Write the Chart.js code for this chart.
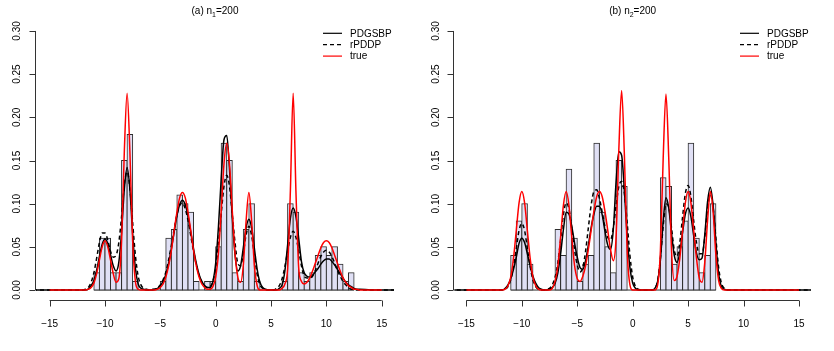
<!DOCTYPE html>
<html>
<head>
<meta charset="utf-8">
<title>Density estimates</title>
<script src="https://cdn.jsdelivr.net/npm/chart.js@4.4.1/dist/chart.umd.min.js"></script>
<style>
  html, body { margin: 0; padding: 0; background: #ffffff; }
  .wrap { display: flex; width: 834px; height: 351px; }
  canvas { display: block; }
</style>
</head>
<body>
<div class="wrap">
  <canvas id="chart-a" width="417" height="351"></canvas>
  <canvas id="chart-b" width="417" height="351"></canvas>
</div>
<script>
// ---- data ----
const seriesNames = ['PDGSBP', 'rPDDP', 'true'];
const panelTitles = [['(a) n', '1', '=200'], ['(b) n', '2', '=200']];

const xTicks = [-15, -10, -5, 0, 5, 10, 15];
const xTickLabels = ['\u221215', '\u221210', '\u22125', '0', '5', '10', '15'];
const yTicks = [0, 0.05, 0.10, 0.15, 0.20, 0.25, 0.30];
const yTickLabels = ['0.00', '0.05', '0.10', '0.15', '0.20', '0.25', '0.30'];

// panel (a): histogram
const binEdgesA = [
  -11, -10.5, -10, -9.5, -9, -8.5, -8, -7.5, -7, -6.5, -6, -5.5,
  -5, -4.5, -4, -3.5, -3, -2.5, -2, -1.5, -1, -0.5, 0, 0.5,
  1, 1.5, 2, 2.5, 3, 3.5, 4, 4.5, 5, 5.5, 6, 6.5,
  7, 7.5, 8, 8.5, 9, 9.5, 10, 10.5, 11, 11.5, 12, 12.5
];
const histA = [
  0.02, 0.06, 0.06, 0.02, 0.02, 0.15, 0.18, 0.01, 0, 0, 0, 0,
  0.01, 0.06, 0.07, 0.11, 0.10, 0.09, 0.01, 0, 0.01, 0.01, 0.05, 0.17,
  0.15, 0.02, 0.01, 0.07, 0.10, 0.01, 0, 0, 0, 0, 0.01, 0.10,
  0.09, 0.02, 0.01, 0.02, 0.04, 0.05, 0.04, 0.05, 0.03, 0.01, 0.02
];

// panel (a): density curves
const curveXA = [
  -16.5, -15, -13.5,
  -12, -11.75, -11.5, -11.25,
  -11, -10.75, -10.5, -10.25,
  -10, -9.75, -9.5, -9.25,
  -9, -8.75, -8.5, -8.25,
  -8, -7.75, -7.5, -7.25,
  -7, -6.75, -6.5, -6.25,
  -6, -5.75, -5.5, -5.25,
  -5, -4.75, -4.5, -4.25,
  -4, -3.75, -3.5, -3.25,
  -3, -2.75, -2.5, -2.25,
  -2, -1.75, -1.5, -1.25,
  -1, -0.75, -0.5, -0.25,
  0, 0.25, 0.5, 0.75,
  1, 1.25, 1.5, 1.75,
  2, 2.25, 2.5, 2.75,
  3, 3.25, 3.5, 3.75,
  4, 4.25, 4.5, 4.75,
  5, 5.25, 5.5, 5.75,
  6, 6.25, 6.5, 6.75,
  7, 7.25, 7.5, 7.75,
  8, 8.25, 8.5, 8.75,
  9, 9.25, 9.5, 9.75,
  10, 10.25, 10.5, 10.75,
  11, 11.25, 11.5, 11.75,
  12, 12.25, 12.5, 12.75,
  13,
  14, 15, 16.5
];
const pdgsbpA = [
  0, 0, 0,
  0.000, 0.000, 0.001, 0.005,
  0.011, 0.023, 0.039, 0.053,
  0.059, 0.054, 0.041, 0.028,
  0.022, 0.032, 0.067, 0.117,
  0.142, 0.117, 0.065, 0.025,
  0.007, 0.002, 0.001, 0.000,
  0.000, 0.000, 0.001, 0.002,
  0.005, 0.010, 0.018, 0.031,
  0.048, 0.067, 0.086, 0.099,
  0.104, 0.099, 0.086, 0.067,
  0.048, 0.031, 0.018, 0.010,
  0.005, 0.003, 0.003, 0.010,
  0.031, 0.073, 0.129, 0.174,
  0.179, 0.140, 0.084, 0.041,
  0.022, 0.028, 0.049, 0.072,
  0.082, 0.072, 0.048, 0.024,
  0.009, 0.003, 0.001, 0.000,
  0.000, 0.000, 0.000, 0.002,
  0.006, 0.022, 0.052, 0.083,
  0.095, 0.085, 0.060, 0.033,
  0.020, 0.016, 0.015, 0.017,
  0.021, 0.025, 0.030, 0.034,
  0.036, 0.036, 0.033, 0.029,
  0.024, 0.019, 0.014, 0.009,
  0.006, 0.004, 0.002, 0.001,
  0.001,
  0, 0, 0
];
const rpddpA = [
  0, 0, 0,
  0.000, 0.001, 0.003, 0.009,
  0.020, 0.037, 0.055, 0.066,
  0.066, 0.058, 0.045, 0.038,
  0.040, 0.055, 0.085, 0.122,
  0.137, 0.118, 0.078, 0.040,
  0.016, 0.006, 0.002, 0.001,
  0.000, 0.001, 0.001, 0.003,
  0.006, 0.012, 0.021, 0.035,
  0.052, 0.070, 0.087, 0.098,
  0.101, 0.094, 0.081, 0.063,
  0.045, 0.029, 0.017, 0.009,
  0.005, 0.003, 0.004, 0.010,
  0.025, 0.053, 0.088, 0.120,
  0.133, 0.120, 0.088, 0.055,
  0.031, 0.028, 0.043, 0.064,
  0.074, 0.063, 0.040, 0.018,
  0.006, 0.002, 0.000, 0.000,
  0.000, 0.000, 0.002, 0.005,
  0.013, 0.027, 0.045, 0.061,
  0.068, 0.061, 0.046, 0.028,
  0.016, 0.014, 0.014, 0.016,
  0.023, 0.031, 0.039, 0.044,
  0.046, 0.044, 0.039, 0.031,
  0.023, 0.016, 0.010, 0.006,
  0.003, 0.001, 0.001, 0.000,
  0.000,
  0, 0, 0
];
const trueA = [
  null, 0, 0,
  0.000, 0.000, 0.001, 0.003,
  0.008, 0.019, 0.035, 0.050,
  0.057, 0.050, 0.035, 0.019,
  0.009, 0.013, 0.057, 0.161,
  0.228, 0.161, 0.057, 0.010,
  0.001, 0.000, 0.000, 0.000,
  0.000, 0.000, 0.000, 0.001,
  0.003, 0.007, 0.015, 0.028,
  0.046, 0.069, 0.090, 0.107,
  0.113, 0.107, 0.090, 0.069,
  0.046, 0.028, 0.015, 0.007,
  0.003, 0.001, 0.001, 0.004,
  0.015, 0.042, 0.092, 0.146,
  0.170, 0.146, 0.092, 0.042,
  0.015, 0.009, 0.029, 0.080,
  0.113, 0.080, 0.028, 0.005,
  0.000, 0.000, 0.000, 0.000,
  0.000, 0.000, 0.000, 0.000,
  0.002, 0.007, 0.025, 0.115,
  0.228, 0.115, 0.026, 0.010,
  0.007, 0.009, 0.014, 0.022,
  0.031, 0.040, 0.049, 0.055,
  0.057, 0.055, 0.049, 0.040,
  0.031, 0.022, 0.014, 0.009,
  0.005, 0.003, 0.001, 0.001,
  0.000,
  0, 0, null
];

// panel (b): histogram
const binEdgesB = [
  -11, -10.5, -10, -9.5, -9, -8.5, -8, -7.5, -7, -6.5, -6, -5.5,
  -5, -4.5, -4, -3.5, -3, -2.5, -2, -1.5, -1, -0.5, 0, 0.5,
  1, 1.5, 2, 2.5, 3, 3.5, 4, 4.5, 5, 5.5, 6, 6.5,
  7, 7.5
];
const histB = [
  0.04, 0.08, 0.10, 0.03, 0, 0, 0, 0, 0.07, 0.04, 0.14, 0.06,
  0.01, 0.03, 0.04, 0.17, 0.09, 0.05, 0.02, 0.15, 0.12, 0, 0, 0,
  0, 0, 0, 0.13, 0.12, 0.03, 0.05, 0.08, 0.17, 0.06, 0.02, 0.04,
  0.10
];

// panel (b): density curves
const curveXB = [
  -16.5, -15, -13.5,
  -12, -11.75, -11.5, -11.25,
  -11, -10.75, -10.5, -10.25,
  -10, -9.75, -9.5, -9.25,
  -9, -8.75, -8.5, -8.25,
  -8, -7.75, -7.5, -7.25,
  -7, -6.75, -6.5, -6.25,
  -6, -5.75, -5.5, -5.25,
  -5, -4.75, -4.5, -4.25,
  -4, -3.75, -3.5, -3.25,
  -3, -2.75, -2.5, -2.25,
  -2, -1.75, -1.5, -1.25,
  -1, -0.75, -0.5, -0.25,
  0, 0.25, 0.5, 0.75,
  1, 1.25, 1.5, 1.75,
  2, 2.25, 2.5, 2.75,
  3, 3.25, 3.5, 3.75,
  4, 4.25, 4.5, 4.75,
  5, 5.25, 5.5, 5.75,
  6, 6.25, 6.5, 6.75,
  7, 7.25, 7.5, 7.75,
  8, 8.25, 8.5, 8.75,
  9,
  11, 13, 15, 16.5
];
const pdgsbpB = [
  0, 0, 0,
  0.000, 0.000, 0.002, 0.006,
  0.013, 0.024, 0.038, 0.054,
  0.060, 0.055, 0.042, 0.028,
  0.016, 0.008, 0.003, 0.001,
  0.000, 0.000, 0.001, 0.003,
  0.008, 0.020, 0.042, 0.070,
  0.090, 0.088, 0.074, 0.055,
  0.038, 0.026, 0.024, 0.034,
  0.052, 0.072, 0.088, 0.097,
  0.097, 0.087, 0.068, 0.052,
  0.047, 0.070, 0.125, 0.160,
  0.156, 0.115, 0.062, 0.026,
  0.008, 0.002, 0.000, 0.000,
  0.000, 0.000, 0.000, 0.000,
  0.002, 0.010, 0.035, 0.080,
  0.107, 0.095, 0.066, 0.040,
  0.032, 0.044, 0.067, 0.088,
  0.095, 0.085, 0.063, 0.043,
  0.035, 0.037, 0.064, 0.102,
  0.119, 0.098, 0.055, 0.019,
  0.004, 0.001, 0.000, 0.000,
  0.000,
  0, 0, 0, 0
];
const rpddpB = [
  0, 0, 0,
  0.000, 0.000, 0.001, 0.004,
  0.012, 0.027, 0.048, 0.069,
  0.077, 0.069, 0.048, 0.027,
  0.012, 0.004, 0.001, 0.000,
  0.000, 0.001, 0.002, 0.006,
  0.015, 0.032, 0.058, 0.087,
  0.101, 0.094, 0.072, 0.047,
  0.029, 0.021, 0.026, 0.045,
  0.072, 0.098, 0.114, 0.116,
  0.106, 0.090, 0.073, 0.061,
  0.058, 0.072, 0.098, 0.120,
  0.126, 0.112, 0.078, 0.040,
  0.015, 0.004, 0.001, 0.000,
  0.000, 0.000, 0.000, 0.000,
  0.002, 0.011, 0.037, 0.074,
  0.100, 0.096, 0.072, 0.046,
  0.039, 0.055, 0.085, 0.112,
  0.121, 0.108, 0.080, 0.055,
  0.042, 0.042, 0.061, 0.094,
  0.110, 0.096, 0.060, 0.026,
  0.008, 0.002, 0.000, 0.000,
  0.000,
  0, 0, 0, 0
];
const trueB = [
  null, 0, 0,
  0.000, 0.000, 0.001, 0.005,
  0.015, 0.037, 0.069, 0.101,
  0.114, 0.101, 0.069, 0.037,
  0.015, 0.005, 0.001, 0.000,
  0.000, 0.000, 0.000, 0.002,
  0.010, 0.028, 0.062, 0.098,
  0.114, 0.098, 0.062, 0.029,
  0.013, 0.010, 0.016, 0.028,
  0.047, 0.069, 0.091, 0.108,
  0.114, 0.108, 0.091, 0.069,
  0.047, 0.034, 0.061, 0.163,
  0.231, 0.156, 0.046, 0.006,
  0.000, 0.000, 0.000, 0.000,
  0.000, 0.000, 0.000, 0.000,
  0.000, 0.006, 0.046, 0.153,
  0.227, 0.153, 0.047, 0.011,
  0.016, 0.037, 0.069, 0.101,
  0.114, 0.101, 0.069, 0.037,
  0.014, 0.009, 0.032, 0.080,
  0.114, 0.091, 0.041, 0.011,
  0.002, 0.000, 0.000, 0.000,
  0.000,
  0, 0, 0, null
];

// ---- drawing ----
const FONT = '"Liberation Sans", Arial, Helvetica, sans-serif';
const BAR_FILL = '#e0e0f5';
const BAR_LINE = '#2e2e2e';
const AXIS_COLOR = '#333333';

function toPoints(xs, ys) {
  return xs.map((x, i) => ({ x: x, y: ys[i] }));
}

function binPoints(edges, dens) {
  return dens.map((d, i) => ({ x: (edges[i] + edges[i + 1]) / 2, y: d }));
}

// R-like axes, title and legend
const rStyle = {
  id: 'rStyle',
  beforeDatasetsDraw(chart, args, opts) {
    // zero-height bins still show as a line along the base
    const { ctx, scales: { x, y } } = chart;
    const e = opts.edges;
    const y0 = y.getPixelForValue(0);
    ctx.save();
    ctx.strokeStyle = BAR_LINE;
    ctx.lineWidth = 1;
    ctx.beginPath();
    ctx.moveTo(x.getPixelForValue(e[0]), y0);
    ctx.lineTo(x.getPixelForValue(e[e.length - 1]), y0);
    ctx.stroke();
    ctx.restore();
  },
  afterDraw(chart, args, opts) {
    const { ctx, chartArea: a, scales: { x, y } } = chart;
    ctx.save();
    ctx.strokeStyle = AXIS_COLOR;
    ctx.fillStyle = '#000';
    ctx.lineWidth = 1;
    ctx.font = '10px ' + FONT;

    // x axis
    const xb = Math.round(a.bottom) + 0.5;
    ctx.beginPath();
    ctx.moveTo(x.getPixelForValue(xTicks[0]), xb);
    ctx.lineTo(x.getPixelForValue(xTicks[xTicks.length - 1]), xb);
    xTicks.forEach(v => {
      const px = Math.round(x.getPixelForValue(v)) + 0.5;
      ctx.moveTo(px, xb);
      ctx.lineTo(px, xb + 6);
    });
    ctx.stroke();
    ctx.textAlign = 'center';
    ctx.textBaseline = 'alphabetic';
    xTicks.forEach((v, i) => {
      ctx.fillText(xTickLabels[i], x.getPixelForValue(v), a.bottom + 26.3);
    });

    // y axis
    const yl = Math.round(a.left) - 0.5;
    ctx.beginPath();
    ctx.moveTo(yl, y.getPixelForValue(yTicks[0]));
    ctx.lineTo(yl, y.getPixelForValue(yTicks[yTicks.length - 1]));
    yTicks.forEach(v => {
      const py = Math.round(y.getPixelForValue(v)) + 0.5;
      ctx.moveTo(yl, py);
      ctx.lineTo(yl - 6, py);
    });
    ctx.stroke();
    yTicks.forEach((v, i) => {
      ctx.save();
      ctx.translate(a.left - 15.7, y.getPixelForValue(v));
      ctx.rotate(-Math.PI / 2);
      ctx.fillText(yTickLabels[i], 0, 0);
      ctx.restore();
    });

    // title with subscript
    const [pre, sub, post] = opts.title;
    const subFont = '7px ' + FONT;
    const mainFont = '10px ' + FONT;
    ctx.font = mainFont;
    const w1 = ctx.measureText(pre).width;
    const w3 = ctx.measureText(post).width;
    ctx.font = subFont;
    const w2 = ctx.measureText(sub).width;
    let tx = (a.left + a.right) / 2 - (w1 + w2 + w3) / 2;
    const ty = a.top - 6.6;
    ctx.textAlign = 'left';
    ctx.font = mainFont;
    ctx.fillText(pre, tx, ty);
    tx += w1;
    ctx.font = subFont;
    ctx.fillText(sub, tx, ty + 2.5);
    tx += w2;
    ctx.font = mainFont;
    ctx.fillText(post, tx, ty);

    // legend (no box)
    seriesNames.forEach((name, i) => {
      const ds = chart.data.datasets.find(d => d.label === name);
      const ly = a.top + 12.7 + i * 11.4;
      ctx.save();
      ctx.strokeStyle = ds.borderColor;
      ctx.lineWidth = 1.2;
      ctx.setLineDash(ds.borderDash || []);
      ctx.beginPath();
      ctx.moveTo(a.right - 71, ly);
      ctx.lineTo(a.right - 52, ly);
      ctx.stroke();
      ctx.restore();
      ctx.font = mainFont;
      ctx.textAlign = 'left';
      ctx.textBaseline = 'middle';
      ctx.fillText(name, a.right - 44, ly + 0.5);
      ctx.textBaseline = 'alphabetic';
    });
    ctx.restore();
  }
};

function buildPanel(canvasId, p) {
  const lineBase = {
    type: 'line',
    pointRadius: 0,
    borderWidth: 1.5,
    cubicInterpolationMode: 'monotone',
    fill: false,
    spanGaps: false
  };
  return new Chart(document.getElementById(canvasId), {
    type: 'bar',
    data: {
      datasets: [
        Object.assign({}, lineBase, { label: 'true', data: toPoints(p.xs, p.truth), borderColor: '#ff0000', order: 0 }),
        Object.assign({}, lineBase, { label: 'rPDDP', data: toPoints(p.xs, p.rpddp), borderColor: '#000000', borderDash: [4, 3], order: 1 }),
        Object.assign({}, lineBase, { label: 'PDGSBP', data: toPoints(p.xs, p.pdgsbp), borderColor: '#000000', order: 2 }),
        {
          type: 'bar',
          label: 'histogram',
          data: binPoints(p.edges, p.hist),
          backgroundColor: BAR_FILL,
          borderColor: BAR_LINE,
          borderWidth: 1,
          borderSkipped: false,
          inflateAmount: 0.5,
          barPercentage: 1,
          categoryPercentage: 1,
          order: 3
        }
      ]
    },
    options: {
      responsive: false,
      animation: false,
      events: [],
      devicePixelRatio: 1,
      layout: { padding: { left: p.padLeft, right: 23, top: 20.6, bottom: 50.6 } },
      scales: {
        x: { type: 'linear', min: p.xMin, max: p.xMax, offset: false, display: false },
        y: { type: 'linear', min: -0.012, max: 0.312, display: false }
      },
      plugins: {
        legend: { display: false },
        tooltip: { enabled: false },
        title: { display: false },
        rStyle: { edges: p.edges, title: p.title }
      }
    },
    plugins: [rStyle]
  });
}

buildPanel('chart-a', {
  xs: curveXA, pdgsbp: pdgsbpA, rpddp: rpddpA, truth: trueA,
  edges: binEdgesA, hist: histA, title: panelTitles[0],
  xMin: -16.23, xMax: 16.11, padLeft: 36
});
buildPanel('chart-b', {
  xs: curveXB, pdgsbp: pdgsbpB, rpddp: rpddpB, truth: trueB,
  edges: binEdgesB, hist: histB, title: panelTitles[1],
  xMin: -16.09, xMax: 16.08, padLeft: 37.3
});
</script>
</body>
</html>
